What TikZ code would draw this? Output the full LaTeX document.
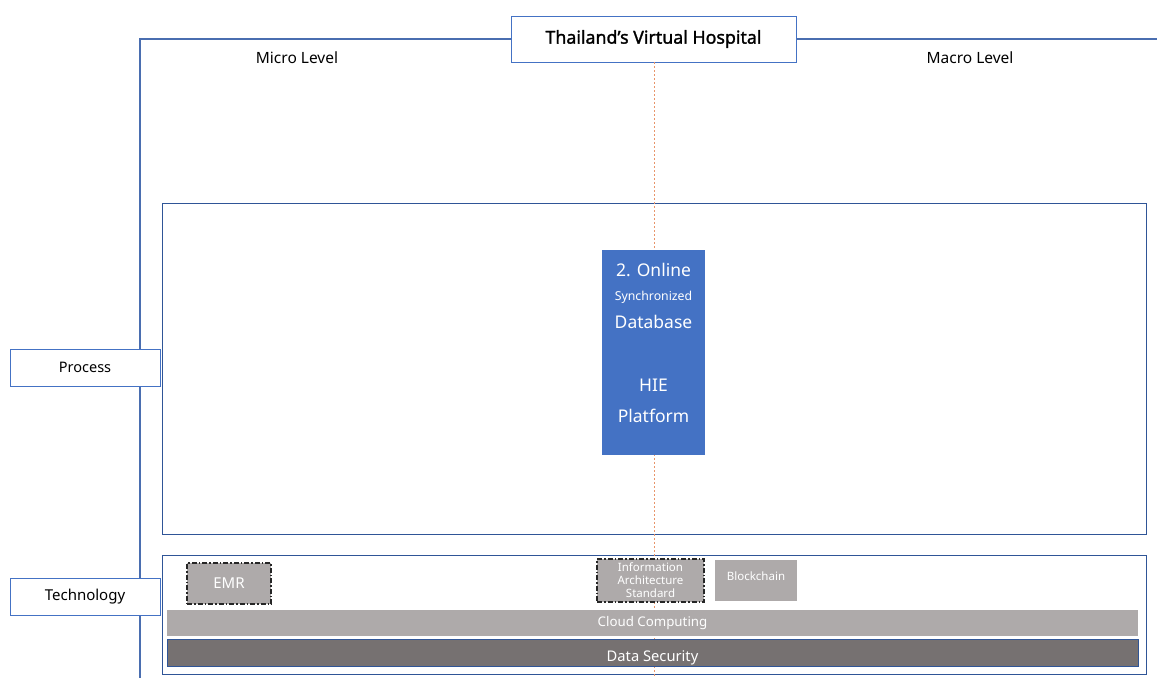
\documentclass[tikz,border=0pt]{standalone}
\usepackage{fontspec}
\setmainfont{Noto Sans}
\newfontfamily\titlefont{Noto Sans}[FakeBold=1.5]
\begin{document}
\begin{tikzpicture}[x=1pt,y=-1pt,
  axis/.style={draw=axisblue,line width=1.2pt},
  framebox/.style={draw=frameblue,line width=0.9pt,fill=none},
  labelbox/.style={draw=lightblue,line width=0.9pt,fill=white,minimum width=150pt,minimum height=37pt,inner sep=0pt},
  greybox/.style={fill=techgrey,text=white,inner sep=0pt,align=center},
  dashdotbox/.style={greybox,draw=black!85,line width=1.1pt,dash pattern=on 5pt off 2pt on 1.5pt off 2pt},
  levelnote/.style={font=\fontsize{15.5}{18}\selectfont},
  hietext/.style={text=white,inner sep=0pt,font=\fontsize{17.5}{20}\selectfont},
  centreline/.style={draw=orangeline,line width=0.9pt,dash pattern=on 2pt off 2pt}
]
\definecolor{axisblue}{HTML}{4A6EB0}
\definecolor{frameblue}{HTML}{2F5597}
\definecolor{lightblue}{HTML}{4472C4}
\definecolor{hieblue}{HTML}{4472C4}
\definecolor{techgrey}{HTML}{AEAAAA}
\definecolor{securegrey}{HTML}{767171}
\definecolor{orangeline}{HTML}{E8956A}
\useasboundingbox (0,0) rectangle (1157,678);

% axes
\coordinate (origin) at (140,39);
\coordinate (xend) at (1157,39);
\coordinate (yend) at (140,678);
\draw[axis] (xend) -- (origin) -- (yend);

% section frames
\node[framebox,minimum width=984pt,minimum height=331pt,inner sep=0pt] (procframe) at (654,368.5) {};
\node[framebox,minimum width=984pt,minimum height=119pt,inner sep=0pt] (techframe) at (654,614.5) {};

% title
\node[draw=lightblue,line width=0.9pt,fill=white,minimum width=285pt,minimum height=46pt,inner sep=0pt,
      font=\titlefont\fontsize{17.8}{20}\selectfont] (title) at (653.5,39) {Thailand’s Virtual Hospital};

% centre line
\coordinate (bottomcentre) at (654,678);
\draw[centreline] (title.south -| bottomcentre) -- (bottomcentre);

\node[levelnote] (micro) at (297,58) {Micro Level};
\node[levelnote] (macro) at (970,58) {Macro Level};

% row labels
\node[labelbox,font=\fontsize{14.5}{17}\selectfont] (process) at (85,367.5) {Process};
\node[labelbox,font=\fontsize{15}{17}\selectfont] (technology) at (85,596.5) {Technology};

% process content
\node[fill=hieblue,minimum width=103pt,minimum height=205pt,inner sep=0pt] (hie) at (653.5,352.5) {};
\node[hietext] (hie1) at (653.5,270) {2. Online};
\node[hietext,font=\fontsize{12.3}{14}\selectfont] (hie2) at (653.5,297) {Synchronized};
\node[hietext] (hie3) at (653.5,322) {Database};
\node[hietext] (hie4) at (653.5,385) {HIE};
\node[hietext] (hie5) at (653.5,416) {Platform};

% technology content
\node[dashdotbox,minimum width=84pt,minimum height=41pt,font=\fontsize{15}{17}\selectfont] (emr) at (229,583.5) {EMR};
\node[dashdotbox,minimum width=107pt,minimum height=43pt,font=\fontsize{11.5}{13}\selectfont] (iarch) at (650.5,580.5)
  {Information\\Architecture\\Standard};
\node[greybox,minimum width=82pt,minimum height=41pt] (blockchain) at (756,580.5) {};
\node[text=white,inner sep=0pt,font=\fontsize{11.5}{13}\selectfont] (blockchaintext) at (756,576.5) {Blockchain};
\node[greybox,minimum width=971pt,minimum height=26pt,font=\fontsize{13.3}{15}\selectfont] (cloud) at (652.5,623) {Cloud Computing};
\node[greybox,fill=securegrey,draw=frameblue,line width=1pt,minimum width=971pt,minimum height=27pt] (security) at (652.5,652.5) {};
\node[text=white,inner sep=0pt,font=\fontsize{14.7}{17}\selectfont] (securitytext) at (652.5,657.5) {Data Security};
\end{tikzpicture}
\end{document}
